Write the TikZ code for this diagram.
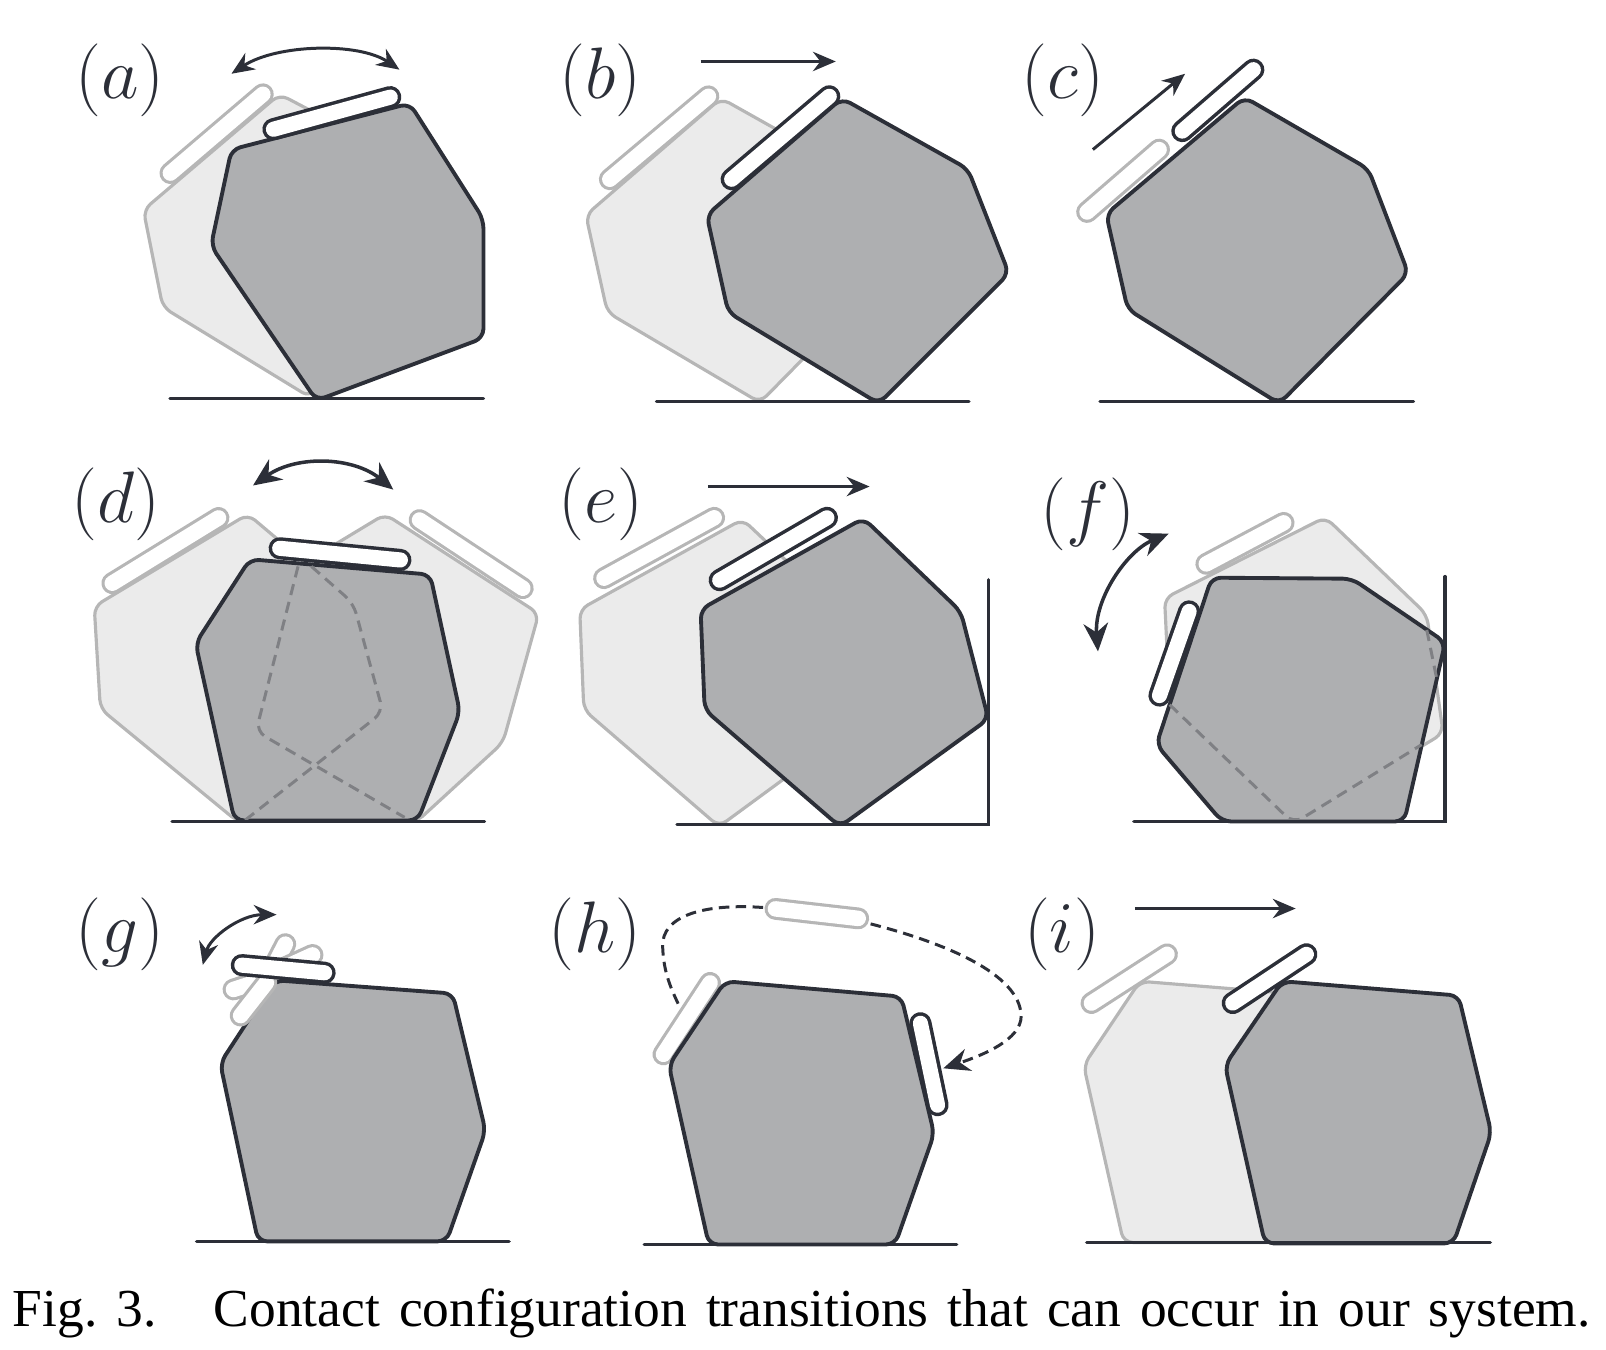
\documentclass[tikz,border=0pt]{standalone}
\usepackage{amsmath,amssymb}
\usepackage{fontspec}
\newfontfamily\captionfont{Liberation Serif}
\usetikzlibrary{arrows.meta}
\definecolor{inkdark}{HTML}{2C2F38}
\definecolor{bodydark}{HTML}{AEAFB1}
\definecolor{bodylight}{HTML}{EBEBEB}
\definecolor{inklight}{HTML}{B6B6B6}
\definecolor{inkdash}{HTML}{7F8084}

\begin{document}
\begin{tikzpicture}[
    x=0.01024cm, y=-0.01024cm,
    block/.style={draw=inkdark, fill=bodydark, line width=1.1pt, rounded corners=2.6pt, line join=round},
    ghost/.style={draw=inklight, fill=bodylight, line width=0.9pt, rounded corners=2.6pt, line join=round},
    finger/.style={inkdark, line width=1pt, double=white, double distance=4.3pt, line cap=round, shorten >=0.9pt, shorten <=0.9pt},
    ghostfinger/.style={inklight, line width=0.9pt, double=white, double distance=4.4pt, line cap=round, shorten >=0.9pt, shorten <=0.9pt},
    ground/.style={inkdark, line width=1pt, line cap=round},
    hidden/.style={inkdash, line width=0.85pt, dash pattern=on 3.2pt off 2pt, rounded corners=3pt},
    motion/.style={inkdark, line width=0.85pt, >={Stealth[length=6.5pt,width=5.5pt]}},
    bigmotion/.style={inkdark, line width=1pt, >={Stealth[length=8pt,width=7pt]}},
    route/.style={inkdark, line width=0.85pt, dash pattern=on 3pt off 1.8pt, >={Stealth[length=7.5pt,width=6.5pt]}},
    tag/.style={inkdark, font=\fontsize{22}{25}\selectfont, inner sep=0pt},
    caption/.style={anchor=base west, inner sep=0pt, font=\captionfont\fontsize{15.2}{18}\selectfont},
]
    \useasboundingbox (0,0) rectangle (1568,1318);

    % (a)
    \node (tag_a) [tag] at (117,78) {$(a)$};
    \draw [ghostfinger] (164,171) -- (259,90);
    \draw [ghost] (273,92) -- (140,205) -- (159,300) -- (303,388) -- (400,200) -- (330,122) -- cycle;
    \draw [block] (226,146) -- (400,101) -- (472,214) -- (472,330) -- (309,391) -- (206,240) -- cycle;
    \draw [finger] (264,127) -- (384,94);
    \draw [ground] (166,389) -- (472,389);
    \draw [motion, <->] (226,72) .. controls (270,43) and (350,41) .. (390,68);

    % (b)
    \node (tag_b) [tag] at (586,78) {$(b)$};
    \draw [ghostfinger] (593,177) -- (694,92);
    \draw [ghost] (572,210) -- (704,96) -- (827,165) -- (866,267) -- (742,393) -- (593,305) -- cycle;
    \draw [block] (690,210) -- (822,96) -- (945,165) -- (985,267) -- (858,394) -- (711,305) -- cycle;
    \draw [finger] (712,177) -- (812,92);
    \draw [ground] (641,392) -- (946,392);
    \draw [motion, ->] (684,60) -- (816,60);

    % (c)
    \node (tag_c) [tag] at (1038,78) {$(c)$};
    \draw [ghostfinger] (1059,209) -- (1134,144);
    \draw [block] (1080,209) -- (1215,95) -- (1336,165) -- (1375,267) -- (1249,394) -- (1101,302) -- cycle;
    \draw [finger] (1152,130) -- (1226,66);
    \draw [ground] (1074,392) -- (1380,392);
    \draw [motion, ->] (1067,146) -- (1157,72);

    % (d)
    \node (tag_d) [tag] at (113,492) {$(d)$};
    \draw [ghostfinger] (107,571) -- (216,504);
    \draw [ghostfinger] (407,506) -- (513,576);
    \draw [ghost] (242,502) -- (345,589) -- (374,695) -- (233,803) -- (98,692) -- (92,592) -- cycle;
    \draw [ghost] (376,502) -- (526,599) -- (491,725) -- (406,803) -- (250,714) -- (280,560) -- cycle;
    \draw [block] (244,546) -- (420,561) -- (449,695) -- (408,801) -- (229,801) -- (191,628) -- cycle;
    \draw [hidden] (291,553) -- (250,714) -- (395,798);
    \draw [hidden] (304,553) -- (345,589) -- (374,695) -- (239,801);
    \draw [finger] (270,535) -- (394,547);
    \draw [ground] (168,802) -- (473,802);
    \draw [bigmotion, <->] (247,474) .. controls (290,444) and (345,446) .. (384,478);

    % (e)
    \node (tag_e) [tag] at (587,492) {$(e)$};
    \draw [ghostfinger] (587,566) -- (700,504);
    \draw [ghost] (566,595) -- (725,507) -- (820,597) -- (845,702) -- (702,807) -- (570,693) -- cycle;
    \draw [block] (684,595) -- (843,506) -- (938,597) -- (965,702) -- (820,807) -- (688,693) -- cycle;
    \draw [finger] (700,568) -- (810,504);
    \draw [ground] (661,805) -- (965,805) -- (965,566);
    \draw [motion, ->] (691,475) -- (849,475);

    % (f)
    \node (tag_f) [tag] at (1062,502) {$(f)$};
    \draw [ghostfinger] (1175,552) -- (1256,509);
    \draw [ghost] (1137,584) -- (1294,505) -- (1393,600) -- (1409,716) -- (1263,804) -- (1142,688) -- cycle;
    \draw [block] (1183,564) -- (1320,565) -- (1411,627) -- (1371,802) -- (1193,802) -- (1129,727) -- cycle;
    \draw [hidden] (1142,688) -- (1263,804) -- (1388,727);
    \draw [hidden] (1393,615) -- (1403,664);
    \draw [finger] (1162,594) -- (1131,682);
    \draw [ground] (1107,802) -- (1411,802) -- (1411,563);
    \draw [bigmotion, <->] (1141,521) .. controls (1100,538) and (1068,585) .. (1072,636);

    % (g)
    \node (tag_g) [tag] at (117,912) {$(g)$};
    \draw [ghostfinger] (280,919) -- (264,950);
    \draw [ghostfinger] (308,931) -- (273,947);
    \draw [block] (268,957) -- (442,970) -- (474,1104) -- (436,1212) -- (252,1212) -- (215,1038) -- cycle;
    \draw [ghostfinger] (225,967) -- (262,955);
    \draw [ghostfinger] (233,994) -- (262,957);
    \draw [finger] (233,942) -- (320,950);
    \draw [ground] (192,1212) -- (497,1212);
    \draw [motion, <->] (198,942) .. controls (205,915) and (235,893) .. (270,893);

    % (h)
    \node (tag_h) [tag] at (581,912) {$(h)$};
    \draw [ghostfinger] (754,887) -- (841,897);
    \draw [ghostfinger] (695,957) -- (646,1032);
    \draw [block] (708,958) -- (880,973) -- (912,1107) -- (874,1215) -- (692,1215) -- (653,1040) -- cycle;
    \draw [finger] (898,996) -- (916,1082);
    \draw [ground] (629,1215) -- (934,1215);
    \draw [route] (745,886) .. controls (690,882) and (645,893) .. (647,925) .. controls (648,950) and (655,965) .. (664,984);
    \draw [route, ->] (850,902) .. controls (920,920) and (996,950) .. (997,992) .. controls (997,1015) and (960,1030) .. (921,1043);

    % (i)
    \node (tag_i) [tag] at (1037,912) {$(i)$};
    \draw [ghostfinger] (1063,981) -- (1142,930);
    \draw [ghost] (1113,958) -- (1285,972) -- (1317,1106) -- (1280,1213) -- (1097,1213) -- (1058,1040) -- cycle;
    \draw [block] (1252,958) -- (1424,972) -- (1456,1106) -- (1419,1214) -- (1235,1214) -- (1196,1040) -- cycle;
    \draw [finger] (1201,981) -- (1278,930);
    \draw [ground] (1061,1213) -- (1455,1213);
    \draw [motion, ->] (1108,887) -- (1265,887);

    % caption
    \node (fig_no) [caption] at (12,1295) {\makebox[1.4336cm][s]{Fig. 3.}};
    \node (fig_text) [caption] at (208,1295)
      {\makebox[13.763cm][s]{Contact configuration transitions that can occur in our system.}};
\end{tikzpicture}
\end{document}
